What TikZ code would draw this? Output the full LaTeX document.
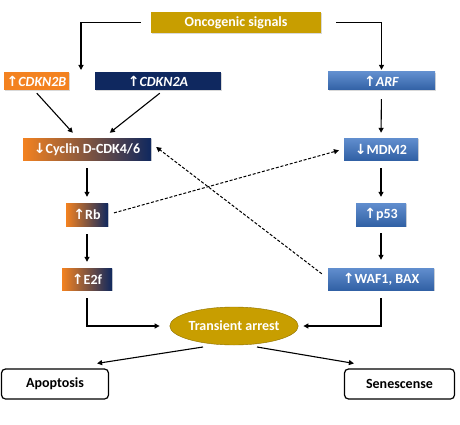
\documentclass[tikz,border=0pt]{standalone}
\usepackage{fontspec}
\setmainfont{Carlito}
\newfontfamily\arrfont{DejaVu Sans}
\usetikzlibrary{arrows.meta,calc,shapes.geometric,shadows}
\definecolor{gold}{RGB}{200,158,0}
\definecolor{orng}{RGB}{243,130,32}
\definecolor{navy}{RGB}{15,40,95}
\definecolor{blu}{RGB}{58,114,194}
\newcommand\upa{{\arrfont\bfseries\fontsize{14}{16}\selectfont ↑}}
\newcommand\dna{{\arrfont\bfseries\fontsize{14}{16}\selectfont ↓}}
\tikzset{
  box/.style={rectangle, inner sep=0pt, text=white,
    font=\fontsize{14}{16}\selectfont\bfseries,
    drop shadow={shadow xshift=1pt, shadow yshift=-1.2pt, opacity=0.3}},
  bluebox/.style={box, top color=blu!80!white, bottom color=blu!85!black},
  gradbox/.style={box, left color=orng, right color=navy},
  endbox/.style={rectangle, rounded corners=4pt, draw=black, line width=1.2pt,
    fill=white, inner sep=0pt, font=\fontsize{14}{16}\selectfont\bfseries},
  conn/.style={line width=1.1pt, -{Triangle[length=5pt,width=5pt]}},
  dconn/.style={line width=1pt, dash pattern=on 3pt off 1.8pt, -{Triangle[length=5pt,width=5pt]}}
}
\begin{document}
\begin{tikzpicture}[x=1pt,y=-1pt]
\useasboundingbox (0,0) rectangle (460,425);
\node[box, fill=gold, minimum width=170pt, minimum height=21pt] (onc) at (236,22.5) {Oncogenic signals};
\node[box, fill=orng, minimum width=65pt, minimum height=18pt] (c2b) at (36.5,81) {\upa\textit{CDKN2B}};
\node[box, fill=navy, minimum width=126pt, minimum height=18pt] (c2a) at (158,81) {\upa\textit{CDKN2A}};
\node[bluebox, minimum width=107pt, minimum height=18pt] (arf) at (381.5,81) {\upa\textit{ARF}};
\node[gradbox, minimum width=128pt, minimum height=22pt] (cyc) at (87,149) {\dna Cyclin D-CDK4/6};
\node[bluebox, minimum width=74pt, minimum height=22pt] (mdm) at (381,149) {\dna MDM2};
\node[gradbox, minimum width=42pt, minimum height=23pt] (rb) at (87,214.5) {\upa Rb};
\node[bluebox, minimum width=50pt, minimum height=23pt] (p53) at (381,214.5) {\upa p53};
\node[gradbox, minimum width=50pt, minimum height=22pt] (e2f) at (87,279) {\upa E2f};
\node[bluebox, minimum width=106pt, minimum height=22pt] (waf) at (381,279) {\upa WAF1, BAX};
\node[ellipse, fill=gold, draw=gold!70!black, line width=0.4pt, inner sep=0pt,
  minimum width=128pt, minimum height=38pt, text=white,
  font=\fontsize{14}{16}\selectfont\bfseries] (tr) at (234,326) {Transient arrest};
\node[endbox, minimum width=107pt, minimum height=30pt] (apo) at (55,384) {Apoptosis};
\node[endbox, minimum width=110pt, minimum height=30pt] (sen) at (399.5,384) {Senescense};
\coordinate (lt) at (81,70);
% connectors
\draw[conn, shorten <=10pt] (onc.west) -| (lt);
\draw[conn, shorten <=15pt, shorten >=2pt] (onc.east) -| (arf.north);
\draw[conn] ($(c2b.south west)+(33,3)$) -- ($(cyc.north west)+(50,-5)$);
\draw[conn] ($(c2a.south west)+(65,3)$) -- ($(cyc.north west)+(87,-5)$);
\draw[conn, shorten <=9pt, shorten >=5pt] (arf.south) -- (mdm.north);
\draw[conn, shorten <=8pt, shorten >=6pt] (cyc.south) -- (rb.north);
\draw[conn, shorten <=8pt, shorten >=6pt] (mdm.south) -- (p53.north);
\draw[conn, shorten <=8pt, shorten >=6pt] (rb.south) -- (e2f.north);
\draw[conn, shorten <=7pt, shorten >=8pt] (p53.south) -- (waf.north);
\draw[dconn, shorten <=6pt, shorten >=5pt] (rb.east) -- (mdm.west);
\draw[dconn] ($(waf.north west)+(-6,6)$) -- ($(cyc.east)+(5,-2)$);
\draw[conn, shorten <=8pt, shorten >=10pt] (e2f.south) |- (tr.west);
\draw[conn, shorten <=8pt, shorten >=5pt] (waf.south) |- (tr.east);
\draw[conn] ($(tr.center)+(-31,21)$) -- ($(apo.north east)+(-12,-5)$);
\draw[conn] ($(tr.center)+(23,21)$) -- ($(sen.north west)+(10,-5)$);
\end{tikzpicture}
\end{document}
